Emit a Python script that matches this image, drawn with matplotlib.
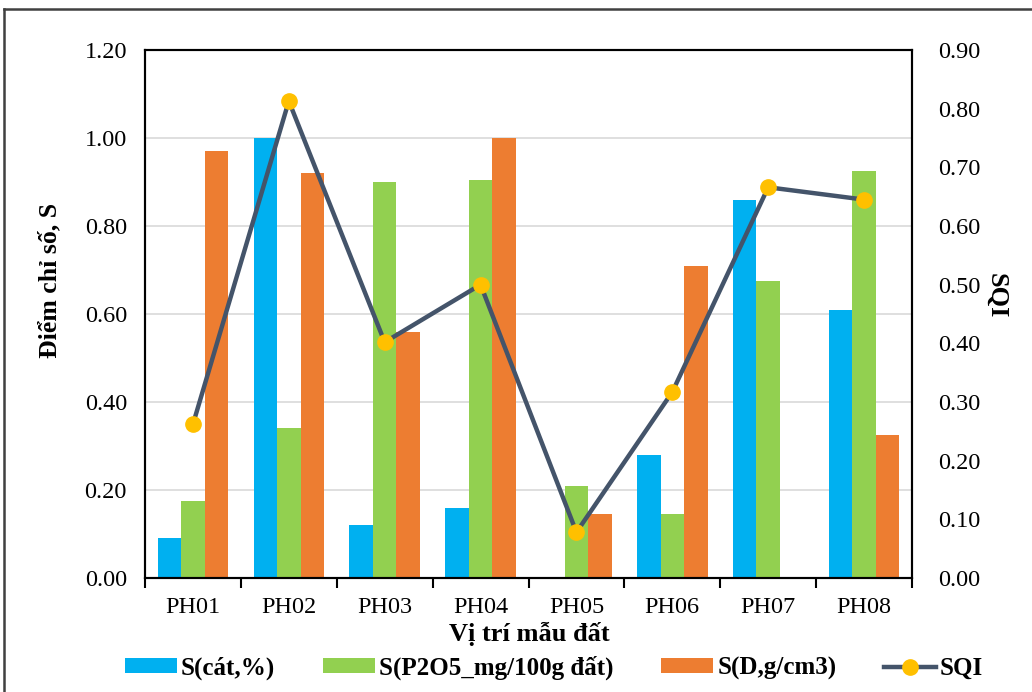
import matplotlib
matplotlib.use("Agg")
import matplotlib.pyplot as plt
import numpy as np
from matplotlib.lines import Line2D
from matplotlib.patches import Patch

plt.rcParams['font.family'] = ['Liberation Serif', 'DejaVu Serif']

categories = ["PH01", "PH02", "PH03", "PH04", "PH05", "PH06", "PH07", "PH08"]
s_cat = [0.09, 1.00, 0.12, 0.16, 0.00, 0.28, 0.86, 0.61]
s_p2o5 = [0.175, 0.34, 0.90, 0.905, 0.21, 0.145, 0.675, 0.925]
s_d = [0.97, 0.92, 0.56, 1.00, 0.145, 0.71, 0.00, 0.325]
sqi = [0.262, 0.813, 0.402, 0.50, 0.078, 0.317, 0.666, 0.645]
left_ticks = [0.0, 0.2, 0.4, 0.6, 0.8, 1.0, 1.2]
right_ticks = [0.0, 0.1, 0.2, 0.3, 0.4, 0.5, 0.6, 0.7, 0.8, 0.9]

c_blue = "#00B0F0"
c_green = "#92D050"
c_orange = "#ED7D31"
c_line = "#44546A"
c_marker = "#FFC000"

W, H = 1032, 692
fig = plt.figure(figsize=(W/100, H/100), dpi=100)
ax = fig.add_axes([145/W, 1-578/H, (912-145)/W, (578-50)/H])

x = np.arange(len(categories))
w = 0.245
ax.bar(x - w, s_cat, w, color=c_blue, zorder=2)
ax.bar(x, s_p2o5, w, color=c_green, zorder=2)
ax.bar(x + w, s_d, w, color=c_orange, zorder=2)

ax.set_xlim(-0.5, len(categories) - 0.5)
ax.set_ylim(0, 1.2)
ax.set_yticks(left_ticks)
ax.set_yticklabels([f"{v:.2f}" for v in left_ticks])
ax.yaxis.grid(True, color="#D9D9D9", linewidth=1.2, zorder=0)
ax.set_axisbelow(True)
ax.tick_params(axis='y', length=0, labelsize=17.5, pad=13)
ax.set_xticks(x)
ax.set_xticklabels(categories)
ax.set_xticks(np.arange(-0.5, len(categories), 1.0), minor=True)
ax.tick_params(axis='x', which='major', length=0, labelsize=17.5, pad=14)
ax.tick_params(axis='x', which='minor', length=7, width=1.5, direction='out')
for sp in ax.spines.values():
    sp.set_linewidth(1.5)
    sp.set_color("black")

ax2 = ax.twinx()
ax2.set_ylim(0, 0.9)
ax2.set_yticks(right_ticks)
ax2.set_yticklabels([f"{v:.2f}" for v in right_ticks])
ax2.tick_params(axis='y', length=0, labelsize=17.5, pad=19)
ax2.plot(x, sqi, color=c_line, linewidth=3.2, marker='o', markersize=11,
         markerfacecolor=c_marker, markeredgecolor=c_marker, zorder=3)
for sp in ax2.spines.values():
    sp.set_linewidth(1.5)
    sp.set_color("black")

# axis titles
fig.text(50/W, 1-280/H, "Điểm chỉ số, S", rotation=90, ha='center', va='center',
         fontsize=18.5, fontweight='bold')
fig.text(529/W, 1-634/H, "Vị trí mẫu đất", ha='center', va='center',
         fontsize=19, fontweight='bold')
fig.text(996/W, 1-296/H, "SQI", rotation=270, ha='center', va='center',
         fontsize=19, fontweight='bold')

handles = [
    Patch(facecolor=c_blue, label="S(cát,%)"),
    Patch(facecolor=c_green, label="S(P2O5_mg/100g đất)"),
    Patch(facecolor=c_orange, label="S(D,g/cm3)"),
    Line2D([0], [0], color=c_line, linewidth=3.2, marker='o', markersize=11,
           markerfacecolor=c_marker, markeredgecolor=c_marker, label="SQI"),
]
fig.legend(handles=handles, loc='center', bbox_to_anchor=(554/W, 1-668/H),
           ncol=4, frameon=False, prop={'size': 18, 'weight': 'bold'},
           handlelength=2.1, handleheight=0.55, columnspacing=1.9, handletextpad=0.15,
           borderpad=0, borderaxespad=0)

# outer chart frame (left and top edges visible)
fig.add_artist(Line2D([4/W, 4/W], [0, 1-9/H], transform=fig.transFigure,
                      color="#404040", linewidth=1.8))
fig.add_artist(Line2D([4/W, 1], [1-9/H, 1-9/H], transform=fig.transFigure,
                      color="#404040", linewidth=1.8))

fig.savefig("out.png", dpi=100)
